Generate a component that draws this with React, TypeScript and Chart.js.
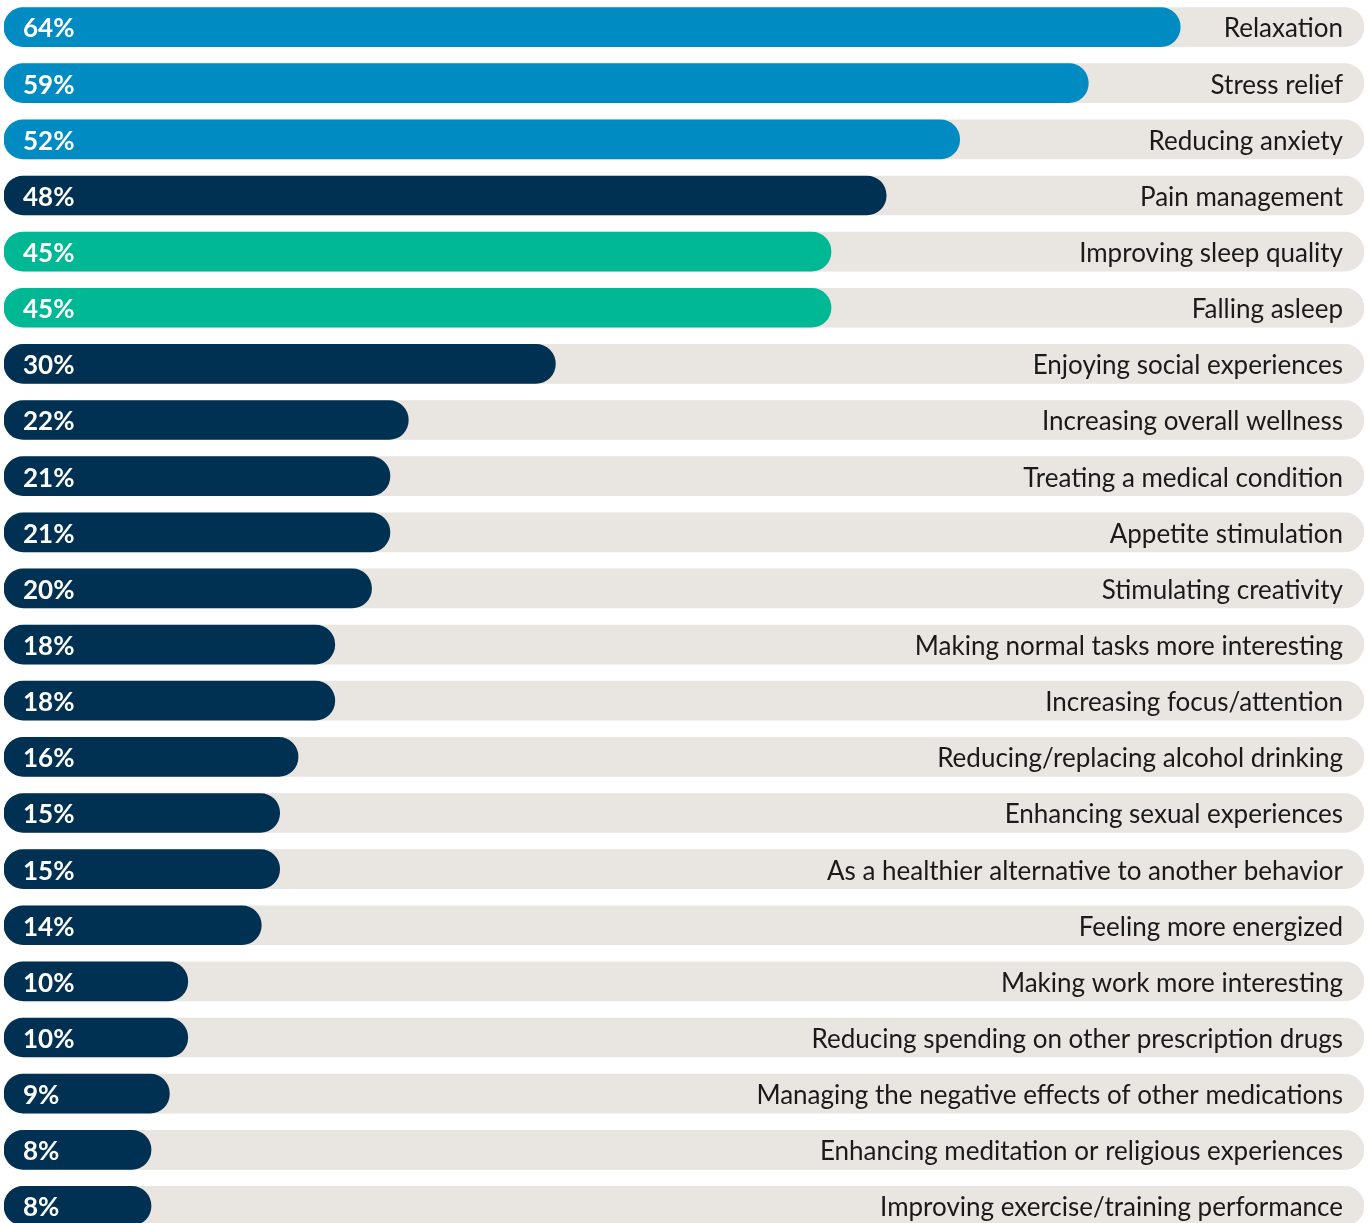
import React, { useEffect, useRef } from "react";
import { Chart, registerables } from "chart.js";

Chart.register(...registerables);

const categories = [
  "Relaxation",
  "Stress relief",
  "Reducing anxiety",
  "Pain management",
  "Improving sleep quality",
  "Falling asleep",
  "Enjoying social experiences",
  "Increasing overall wellness",
  "Treating a medical condition",
  "Appetite stimulation",
  "Stimulating creativity",
  "Making normal tasks more interesting",
  "Increasing focus/attention",
  "Reducing/replacing alcohol drinking",
  "Enhancing sexual experiences",
  "As a healthier alternative to another behavior",
  "Feeling more energized",
  "Making work more interesting",
  "Reducing spending on other prescription drugs",
  "Managing the negative effects of other medications",
  "Enhancing meditation or religious experiences",
  "Improving exercise/training performance",
];

const values = [64, 59, 52, 48, 45, 45, 30, 22, 21, 21, 20, 18, 18, 16, 15, 15, 14, 10, 10, 9, 8, 8];

const groups = [
  "blue", "blue", "blue", "navy", "green", "green", "navy", "navy", "navy", "navy", "navy",
  "navy", "navy", "navy", "navy", "navy", "navy", "navy", "navy", "navy", "navy", "navy",
];

const trackMax = 74;

const palette: Record<string, string> = {
  blue: "#008cc2",
  navy: "#003153",
  green: "#00b894",
};

const labelPlugin = {
  id: "barLabels",
  afterDatasetsDraw(chart: any) {
    const { ctx } = chart;
    const xs = chart.scales.x;
    const ys = chart.scales.y;
    const x0 = xs.getPixelForValue(0);
    const xEnd = xs.getPixelForValue(trackMax);
    ctx.save();
    ctx.textBaseline = "middle";
    categories.forEach((cat, i) => {
      const y = ys.getPixelForValue(i);
      ctx.fillStyle = "#ffffff";
      ctx.textAlign = "left";
      ctx.font = "700 26px Lato";
      ctx.fillText(values[i] + "%", x0 + 19, y + 2);
      ctx.fillStyle = "#1a1a1a";
      ctx.textAlign = "right";
      ctx.font = "400 26px Lato";
      ctx.fillText(cat, xEnd - 21, y + 2);
    });
    ctx.restore();
  },
};

export default function App() {
  const ref = useRef<HTMLCanvasElement | null>(null);
  useEffect(() => {
    if (!ref.current) return;
    const chart = new Chart(ref.current, {
      type: "bar",
      data: {
        labels: categories,
        datasets: [
          {
            data: values,
            backgroundColor: groups.map((g) => palette[g]),
            borderRadius: 20,
            borderSkipped: false,
            barThickness: 39,
            grouped: false,
            order: 0,
          } as any,
          {
            data: categories.map(() => trackMax),
            backgroundColor: "#e9e5e0",
            borderRadius: 20,
            borderSkipped: false,
            barThickness: 39,
            grouped: false,
            order: 1,
          } as any,
        ],
      },
      options: {
        indexAxis: "y",
        animation: false,
        responsive: true,
        maintainAspectRatio: false,
        layout: { padding: { left: 4, right: 5, top: 0, bottom: 0 } },
        plugins: { legend: { display: false }, tooltip: { enabled: false } },
        scales: {
          x: { display: false, min: 0, max: trackMax },
          y: { display: false, offset: true },
        },
      },
      plugins: [labelPlugin],
    });
    return () => chart.destroy();
  }, []);
  return (
    <div style={{ position: "fixed", left: 0, top: -1, width: 1369, height: 1235, background: "#ffffff" }}>
      <canvas ref={ref} />
    </div>
  );
}
